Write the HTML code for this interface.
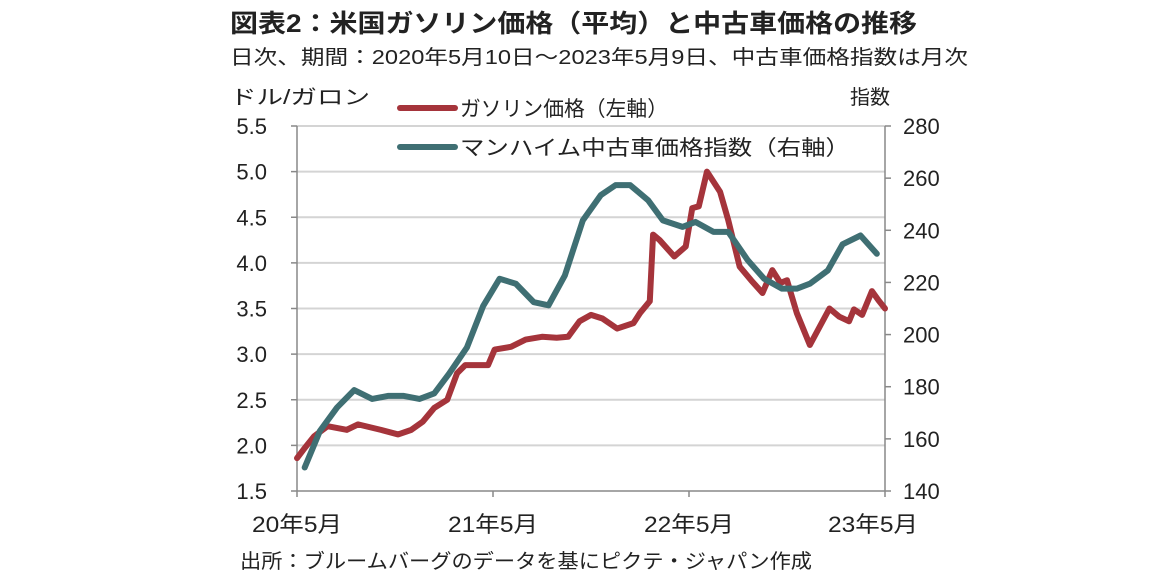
<!DOCTYPE html>
<html><head><meta charset="utf-8"><style>
body{margin:0;background:#fff;width:1152px;height:580px;overflow:hidden;font-family:"Liberation Sans","Noto Sans CJK JP",sans-serif;}
svg text{font-family:"Liberation Sans","Noto Sans CJK JP",sans-serif;fill:#222;}
</style></head><body>
<svg id="chart" width="1152" height="580" viewBox="0 0 1152 580">
<text x="230" y="32" font-size="25" font-weight="bold" textLength="687" lengthAdjust="spacingAndGlyphs">図表2：米国ガソリン価格（平均）と中古車価格の推移</text>
<text x="230" y="64" font-size="20" textLength="738" lengthAdjust="spacingAndGlyphs">日次、期間：2020年5月10日～2023年5月9日、中古車価格指数は月次</text>
<text x="230" y="104" font-size="20" textLength="140" lengthAdjust="spacingAndGlyphs">ドル/ガロン</text>
<text x="850" y="104" font-size="20">指数</text>
<g><line x1="400" y1="108" x2="455" y2="108" stroke="#a5343b" stroke-width="6" stroke-linecap="round"/><text x="460" y="116" font-size="21" textLength="208" lengthAdjust="spacingAndGlyphs">ガソリン価格（左軸）</text></g>
<g><line x1="400" y1="147" x2="455" y2="147" stroke="#3f6f73" stroke-width="6" stroke-linecap="round"/><text x="460" y="155" font-size="21" textLength="390" lengthAdjust="spacingAndGlyphs">マンハイム中古車価格指数（右軸）</text></g>
<g id="grid"></g><g id="axes"></g><g id="series"></g>
<text x="240" y="568" font-size="20" textLength="572" lengthAdjust="spacingAndGlyphs">出所：ブルームバーグのデータを基にピクテ・ジャパン作成</text>
</svg>
<script>
const leftTicks=[1.5,2.0,2.5,3.0,3.5,4.0,4.5,5.0,5.5];
const rightTicks=[140,160,180,200,220,240,260,280];
const xLabels=["20年5月","21年5月","22年5月","23年5月"];
const xLabelMonths=[0,12,24,36];
const gasMonths=[0,0.47,1.05,1.87,3.04,3.74,5.14,6.19,7.0,7.7,8.4,9.2,9.8,10.3,11.7,12.1,13.1,14.0,15.0,15.9,16.6,17.3,18.0,18.7,19.6,20.6,21.0,21.6,21.8,22.2,23.1,23.8,24.2,24.6,25.1,25.9,26.4,27.1,27.8,28.5,29.1,29.6,30.0,30.6,31.4,32.0,32.6,33.2,33.8,34.1,34.6,35.2,35.6,36.0];
const gasValues=[1.86,1.97,2.10,2.21,2.17,2.23,2.17,2.12,2.17,2.26,2.41,2.50,2.79,2.88,2.88,3.05,3.08,3.16,3.19,3.18,3.19,3.36,3.43,3.39,3.28,3.34,3.45,3.58,4.31,4.25,4.07,4.18,4.60,4.62,5.00,4.78,4.47,3.96,3.81,3.67,3.92,3.78,3.81,3.45,3.10,3.30,3.50,3.41,3.36,3.49,3.43,3.69,3.59,3.50];
const manMonths=[0.47,1.4,2.45,3.5,4.6,5.6,6.5,7.5,8.4,9.3,10.4,11.4,12.4,13.4,14.5,15.4,16.4,17.5,18.6,19.5,20.4,21.5,22.4,23.6,24.4,25.5,26.4,27.6,28.6,29.7,30.6,31.4,32.5,33.4,34.5,35.5];
const manValues=[149,163,172,178.7,175.3,176.5,176.5,175.3,177.4,184.9,195,211,221.4,219.5,212.4,211.2,222.7,243.8,253.5,257.3,257.3,251.5,243.8,241.3,243.2,239.4,239.4,228.5,221.4,217.6,217.6,219.5,224.6,234.6,238,231];
const X0=297,X1=885,Y0=491,Y1=126;
const xs=m=>X0+(X1-X0)*m/36;
const yL=v=>Y0-(Y0-Y1)*(v-1.5)/4;
const yR=v=>Y0-(Y0-Y1)*(v-140)/140;
const NS="http://www.w3.org/2000/svg";
function mk(t,a,p){const e=document.createElementNS(NS,t);for(const k in a)e.setAttribute(k,a[k]);p.appendChild(e);return e;}
const grid=document.getElementById('grid'),axes=document.getElementById('axes'),ser=document.getElementById('series');
leftTicks.forEach(v=>{
 if(v>1.5){const g=mk('line',{x1:X0,x2:X1,y1:yL(v),y2:yL(v),stroke:'#d4d4d4','stroke-width':2},grid);
 
 }
 mk('line',{x1:X0-6,x2:X0,y1:yL(v),y2:yL(v),stroke:'#888','stroke-width':1.5},axes);
 const t=mk('text',{x:X0-30,y:yL(v)+8,'font-size':22,'text-anchor':'end'},axes);t.textContent=v.toFixed(1);
 
 
});
rightTicks.forEach(v=>{
 mk('line',{x1:X1,x2:X1+6,y1:yR(v),y2:yR(v),stroke:'#888','stroke-width':1.5},axes);
 const t=mk('text',{x:X1+18,y:yR(v)+8,'font-size':22},axes);t.textContent=v;
 
 
});
const la=mk('line',{x1:X0,x2:X0,y1:Y1,y2:Y0,stroke:'#888','stroke-width':1.5},axes);


const ra=mk('line',{x1:X1,x2:X1,y1:Y1,y2:Y0,stroke:'#888','stroke-width':1.5},axes);


const ba=mk('line',{x1:X0,x2:X1,y1:Y0,y2:Y0,stroke:'#888','stroke-width':1.5},axes);


[0,12,24,36].forEach(m=>mk('line',{x1:xs(m),x2:xs(m),y1:Y0,y2:Y0+6,stroke:'#888','stroke-width':1.5},axes));
xLabels.forEach((s,i)=>{const t=mk('text',{x:xs(xLabelMonths[i])+(i==3?-12:0),y:532,'font-size':22,'text-anchor':'middle',textLength:90,lengthAdjust:'spacingAndGlyphs'},axes);t.textContent=s;
 
 });
const gp=mk('polyline',{points:gasMonths.map((m,i)=>xs(m)+','+yL(gasValues[i])).join(' '),fill:'none',stroke:'#a5343b','stroke-width':6,'stroke-linejoin':'round','stroke-linecap':'round'},ser);


const mp=mk('polyline',{points:manMonths.map((m,i)=>xs(m)+','+yR(manValues[i])).join(' '),fill:'none',stroke:'#3f6f73','stroke-width':6,'stroke-linejoin':'round','stroke-linecap':'round'},ser);


</script>
</body></html>
